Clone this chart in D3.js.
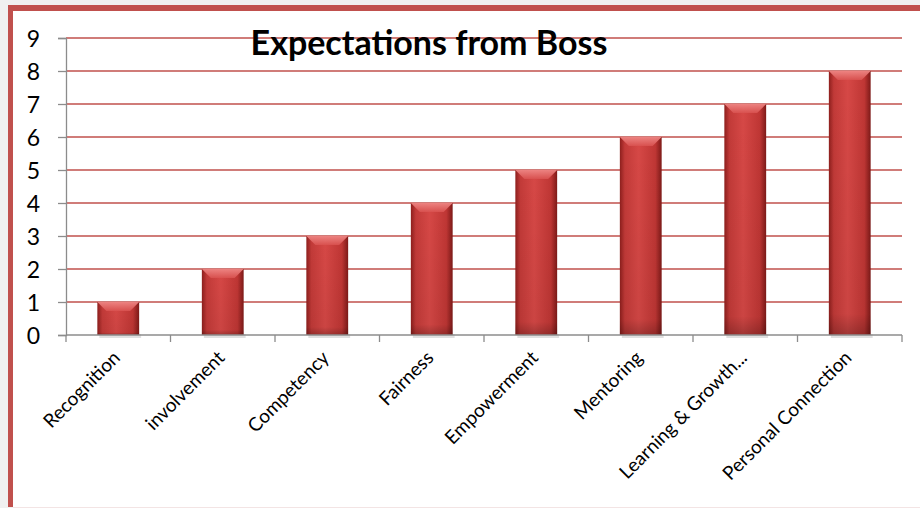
<!DOCTYPE html>
<html>
<head>
<meta charset="utf-8">
<script src="https://cdn.jsdelivr.net/npm/d3@7"></script>
<style>
html,body{margin:0;padding:0;background:#f0f0f0;}
svg{display:block;}
</style>
</head>
<body>
<script>
const categories = ["Recognition","involvement","Competency","Fairness","Empowerment","Mentoring","Learning & Growth...","Personal Connection"];
const values = [1,2,3,4,5,6,7,8];
const yTicks = [0,1,2,3,4,5,6,7,8,9];
const title = "Expectations from Boss";

const W = 920, H = 508;
const svg = d3.select("body").append("svg").attr("width", W).attr("height", H);

// frame
svg.append("rect").attr("x", 8).attr("y", 5).attr("width", W).attr("height", 502).attr("fill", "#fff");
svg.append("rect").attr("x", 8).attr("y", 5).attr("width", W).attr("height", 6).attr("fill", "#c0504d");
svg.append("rect").attr("x", 8).attr("y", 5).attr("width", 5).attr("height", 502).attr("fill", "#c0504d");
svg.append("rect").attr("x", 13).attr("y", 507).attr("width", W).attr("height", 1).attr("fill", "#f3e4e4");

const x0 = 66, x1 = 902, yTop = 38, yBot = 335;
const x = d3.scaleBand().domain(categories).range([x0, x1]).paddingInner(0.6).paddingOuter(0.3);
const y = d3.scaleLinear().domain([0, 9]).range([yBot, yTop]);

const defs = svg.append("defs");
const g = defs.append("linearGradient").attr("id", "barg").attr("x1", 0).attr("x2", 1).attr("y1", 0).attr("y2", 0);
g.append("stop").attr("offset", "0%").attr("stop-color", "#8e1f1d");
g.append("stop").attr("offset", "12%").attr("stop-color", "#c23a38");
g.append("stop").attr("offset", "45%").attr("stop-color", "#d64846");
g.append("stop").attr("offset", "85%").attr("stop-color", "#bf3634");
g.append("stop").attr("offset", "100%").attr("stop-color", "#7e1a18");
const gv = defs.append("linearGradient").attr("id", "barv").attr("x1", 0).attr("x2", 0).attr("y1", 0).attr("y2", 1);
gv.append("stop").attr("offset", "0%").attr("stop-color", "#000").attr("stop-opacity", 0);
gv.append("stop").attr("offset", "92%").attr("stop-color", "#000").attr("stop-opacity", 0.05);
gv.append("stop").attr("offset", "100%").attr("stop-color", "#000").attr("stop-opacity", 0.25);
const gt = defs.append("linearGradient").attr("id", "bart").attr("x1", 0).attr("x2", 0).attr("y1", 0).attr("y2", 1);
gt.append("stop").attr("offset", "0%").attr("stop-color", "#f08a88");
gt.append("stop").attr("offset", "100%").attr("stop-color", "#d95250");

// gridlines
svg.append("g").selectAll("line").data(yTicks.filter(d => d > 0)).join("line")
  .attr("x1", x0).attr("x2", x1)
  .attr("y1", d => y(d)).attr("y2", d => y(d))
  .attr("stroke", "#c0504d").attr("stroke-width", 1.5);

// y axis
const yAxis = d3.axisLeft(y).tickValues(yTicks).tickSize(8).tickPadding(18).tickFormat(d3.format("d"));
const ya = svg.append("g").attr("transform", `translate(${x0},0)`).call(yAxis);
ya.select(".domain").attr("stroke", "#8c8c8c").attr("stroke-width", 1.3);
ya.selectAll(".tick line").attr("stroke", "#8c8c8c").attr("stroke-width", 1.3);
ya.selectAll("text").attr("font-family", "Lato, 'Open Sans', sans-serif").attr("font-size", 23).attr("fill", "#000").attr("dy", "0.36em");

// bars
const bw = x.bandwidth();
const bars = svg.append("g").selectAll("g").data(values).join("g");
bars.append("rect")
  .attr("x", (d, i) => x(categories[i]) + 2).attr("y", d => y(0) - 1)
  .attr("width", bw).attr("height", 4).attr("fill", "#000").attr("opacity", 0.12);
bars.append("rect")
  .attr("x", (d, i) => x(categories[i])).attr("y", d => y(d))
  .attr("width", bw).attr("height", d => y(0) - y(d)).attr("fill", "url(#barg)");
bars.append("rect")
  .attr("x", (d, i) => x(categories[i])).attr("y", d => y(d))
  .attr("width", bw).attr("height", d => y(0) - y(d)).attr("fill", "url(#barv)");
const bev = 9;
bars.append("path")
  .attr("d", (d, i) => {
    const bx = x(categories[i]), by = y(d);
    return `M${bx},${by}L${bx + bw},${by}L${bx + bw - bev},${by + bev}L${bx + bev},${by + bev}Z`;
  })
  .attr("fill", "url(#bart)").attr("opacity", 0.9);

// x axis
const xa = svg.append("g").attr("transform", `translate(0,${yBot})`);
xa.append("line").attr("x1", x0).attr("x2", x1).attr("stroke", "#8c8c8c").attr("stroke-width", 1.3);
const tickPos = d3.range(categories.length + 1).map(i => x0 + i * (x1 - x0) / categories.length);
xa.selectAll("line.t").data(tickPos).join("line").attr("class", "t")
  .attr("x1", d => d).attr("x2", d => d).attr("y1", 0).attr("y2", 7)
  .attr("stroke", "#8c8c8c").attr("stroke-width", 1.3);
xa.selectAll("text").data(categories).join("text")
  .attr("transform", d => `translate(${x(d) + bw / 2 + 3},${24}) rotate(-45)`)
  .attr("text-anchor", "end")
  .attr("font-family", "Lato, 'Open Sans', sans-serif").attr("font-size", 19).attr("fill", "#000")
  .text(d => d);

// title
svg.append("text").attr("x", 429).attr("y", 55).attr("text-anchor", "middle")
  .attr("font-family", "Lato, 'Open Sans', sans-serif").attr("font-weight", "bold").attr("font-size", 34).attr("fill", "#000")
  .text(title);
</script>
</body>
</html>
